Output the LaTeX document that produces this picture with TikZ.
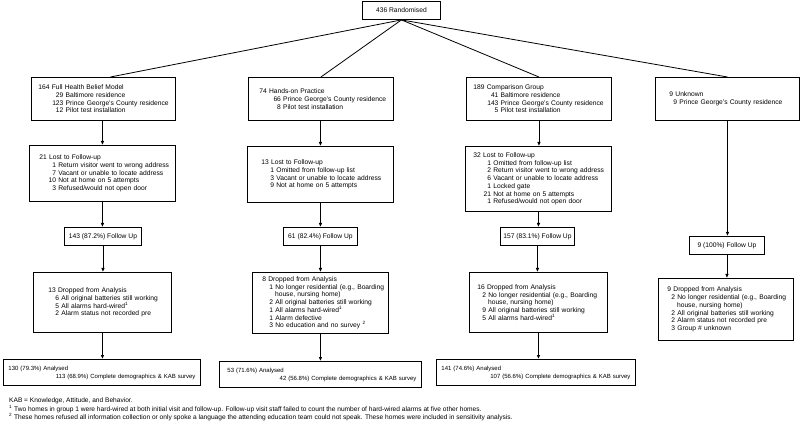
\documentclass[tikz,border=0pt]{standalone}
\usepackage{fontspec}
\setmainfont{Liberation Sans}
\usetikzlibrary{arrows.meta}
\newcommand{\ent}[3]{\mbox{\hspace*{#1}\llap{#2}\ #3}}
\newcommand{\fs}{\fontsize{6.7}{7.75}\selectfont}
\begin{document}
\begin{tikzpicture}[x=1pt,y=-1pt,
  box/.style={draw, line width=0.9pt, align=left, inner ysep=0pt, anchor=north west, font=\fs},
  cbox/.style={draw, line width=0.9pt, align=center, inner sep=0pt, anchor=north west, font=\fs},
  abox/.style={draw, line width=0.9pt, align=left, inner ysep=0pt, inner xsep=5pt, anchor=north west, font=\fontsize{6}{8}\selectfont},
  conn/.style={line width=0.8pt},
  arr/.style={line width=0.8pt, -{Latex[length=4pt,width=3.6pt]}},
  fn/.style={anchor=west, inner sep=0pt, font=\fontsize{6.6}{8}\selectfont}]
\useasboundingbox (0,0) rectangle (800,427);

\node[cbox, minimum width=78pt, minimum height=18pt] (top) at (362,1) {436 Randomised};

% row 1
\node[box, minimum height=43pt, text width=130pt, inner xsep=7pt] (b1) at (31,77)
 {164 Full Health Belief Model\\
  \ent{25pt}{29}{Baltimore residence}\\
  \ent{25pt}{123}{Prince George's County residence}\\
  \ent{25pt}{12}{Pilot test installation}};
\node[box, minimum height=43pt, text width=123pt, inner xsep=11pt] (b2) at (248,77)
 {74 Hands-on Practice\\
  \ent{21.5pt}{66}{Prince George's County residence}\\
  \ent{21.5pt}{8}{Pilot test installation}};
\node[box, minimum height=43pt, text width=131pt, inner xsep=7pt] (b3) at (466,77)
 {189 Comparison Group\\
  \ent{25pt}{41}{Baltimore residence}\\
  \ent{25pt}{143}{Prince George's County residence}\\
  \ent{25pt}{5}{Pilot test installation}};
\node[box, minimum height=43pt, text width=116pt, inner xsep=14pt] (b4) at (655,77)
 {9 Unknown\\
  \ent{7.7pt}{9}{Prince George's County residence}};

% lost to follow-up
\node[box, minimum height=56pt, text width=126pt, inner xsep=10pt] (l1) at (29,145)
 {21 Lost to Follow-up\\
  \ent{16.7pt}{1}{Return visitor went to wrong address}\\
  \ent{16.7pt}{7}{Vacant or unable to locate address}\\
  \ent{16.7pt}{10}{Not at home on 5 attempts}\\
  \ent{16.7pt}{3}{Refused/would not open door}};
\node[box, minimum height=56pt, text width=118pt, inner xsep=14pt] (l2) at (247,146)
 {13 Lost to Follow-up\\
  \ent{12.7pt}{1}{Omitted from follow-up list}\\
  \ent{12.7pt}{3}{Vacant or unable to locate address}\\
  \ent{12.7pt}{9}{Not at home on 5 attempts}};
\node[box, minimum height=65pt, text width=130pt, inner xsep=8pt] (l3) at (465,146)
 {32 Lost to Follow-up\\
  \ent{17.7pt}{1}{Omitted from follow-up list}\\
  \ent{17.7pt}{2}{Return visitor went to wrong address}\\
  \ent{17.7pt}{6}{Vacant or unable to locate address}\\
  \ent{17.7pt}{1}{Locked gate}\\
  \ent{17.7pt}{21}{Not at home on 5 attempts}\\
  \ent{17.7pt}{1}{Refused/would not open door}};

% follow up
\node[cbox, minimum width=77pt, minimum height=18pt] (f1) at (64,227) {143 (87.2\%) Follow Up};
\node[cbox, minimum width=74pt, minimum height=18pt] (f2) at (283,227) {61 (82.4\%) Follow Up};
\node[cbox, minimum width=74pt, minimum height=18pt] (f3) at (500,227) {157 (83.1\%) Follow Up};
\node[cbox, minimum width=75pt, minimum height=18pt] (f4) at (689,236) {9 (100\%) Follow Up};

% dropped
\node[box, minimum height=60pt, text width=108pt, inner xsep=15pt] (d1) at (33,272)
 {13 Dropped from Analysis\\
  \ent{10.7pt}{6}{All original batteries still working}\\
  \ent{10.7pt}{5}{All alarms hard-wired\textsuperscript{1}}\\
  \ent{10.7pt}{2}{Alarm status not recorded pre}};
\node[box, minimum height=61pt, text width=116pt, inner xsep=10pt] (d2) at (252,272)
 {8 Dropped from Analysis\\
  \ent{10.7pt}{1}{No longer residential (e.g., Boarding}\\
  \mbox{\hspace*{12.6pt}house, nursing home)}\\
  \ent{10.7pt}{2}{All original batteries still working}\\
  \ent{10.7pt}{1}{All alarms hard-wired\textsuperscript{1}}\\
  \ent{10.7pt}{1}{Alarm defective}\\
  \ent{10.7pt}{3}{No education and no survey \textsuperscript{2}}};
\node[box, minimum height=60pt, text width=122pt, inner xsep=8pt] (d3) at (469,272)
 {16 Dropped from Analysis\\
  \ent{8.7pt}{2}{No longer residential (e.g., Boarding}\\
  \mbox{\hspace*{10.6pt}house, nursing home)}\\
  \ent{8.7pt}{9}{All original batteries still working}\\
  \ent{8.7pt}{5}{All alarms hard-wired\textsuperscript{1}}};
\node[box, minimum height=62pt, text width=117pt, inner xsep=9pt] (d4) at (658,278)
 {9 Dropped from Analysis\\
  \ent{7.7pt}{2}{No longer residential (e.g., Boarding}\\
  \mbox{\hspace*{9.6pt}house, nursing home)}\\
  \ent{7.7pt}{2}{All original batteries still working}\\
  \ent{7.7pt}{2}{Alarm status not recorded pre}\\
  \ent{7.7pt}{3}{Group \# unknown}};

% analysed
\node[abox, minimum height=26pt, text width=187pt] (a1) at (3,359)
 {130 (79.3\%) Analysed\\
  \hspace*{\fill}\mbox{113 (68.9\%) Complete demographics \& KAB survey}};
\node[abox, minimum height=26pt, text width=192pt] (a2) at (219,361)
 {\hspace*{3pt}53 (71.6\%) Analysed\\
  \hspace*{\fill}\mbox{42 (56.8\%) Complete demographics \& KAB survey}};
\node[abox, minimum height=26pt, text width=189pt] (a3) at (436,359)
 {141 (74.6\%) Analysed\\
  \hspace*{\fill}\mbox{107 (56.6\%) Complete demographics \& KAB survey}};

% footnotes
\node[fn] (fn0) at (9,401) {KAB = Knowledge, Attitude, and Behavior.};
\node[fn] (fn1) at (9,409) {\textsuperscript{1} Two homes in group 1 were hard-wired at both initial visit and follow-up. Follow-up visit staff failed to count the number of hard-wired alarms at five other homes.};
\node[fn] (fn2) at (9,417) {\textsuperscript{2} These homes refused all information collection or only spoke a language the attending education team could not speak. These homes were included in sensitivity analysis.};

% connectors
\draw[conn] (top.south) -- ([xshift=7pt]b1.north);
\draw[conn] (top.south) -- (b2.north);
\draw[conn] (top.south) -- (b3.north);
\draw[conn] (top.south) -- (b4.north);

\draw[arr] (l1.north |- b1.south) -- (l1.north);
\draw[arr] (l2.north |- b2.south) -- (l2.north);
\draw[arr] (b3.south) -- (b3.south |- l3.north);
\draw[arr] (b4.south) -- (b4.south |- f4.north);

\draw[arr] (l1.south) -- (l1.south |- f1.north);
\draw[arr] (l2.south) -- (l2.south |- f2.north);
\draw[arr] (l3.south) -- (l3.south |- f3.north);

\draw[arr] (f1.south) -- (f1.south |- d1.north);
\draw[arr] (f2.south) -- (f2.south |- d2.north);
\draw[arr] (f3.south) -- (f3.south |- d3.north);
\draw[arr] (f4.south) -- (f4.south |- d4.north);

\draw[arr] (d1.south) -- (d1.south |- a1.north);
\draw[arr] (d2.south) -- (d2.south |- a2.north);
\draw[arr] (d3.south) -- (d3.south |- a3.north);
\end{tikzpicture}
\end{document}
